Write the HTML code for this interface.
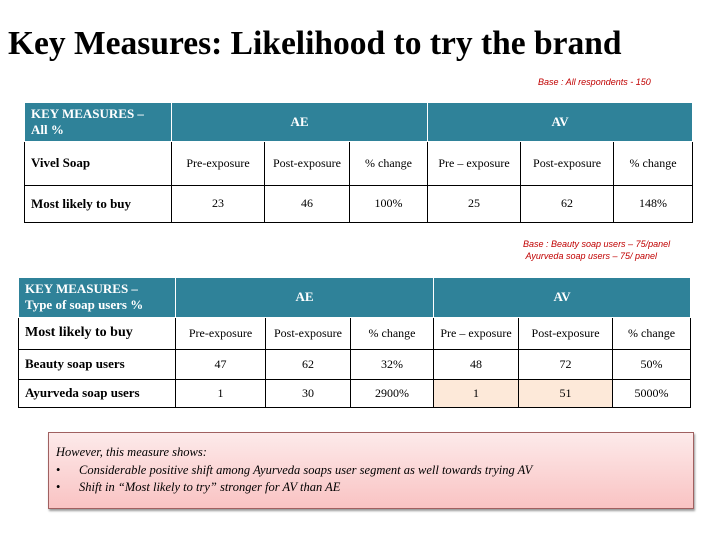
<!DOCTYPE html>
<html><head><meta charset="utf-8">
<style>
body{margin:0;width:720px;height:540px;background:#fff;position:relative;overflow:hidden;font-family:"Liberation Serif",serif;}
.title{position:absolute;left:8px;top:25px;font-size:33.5px;font-weight:bold;white-space:nowrap;color:#000;}
.base{position:absolute;color:#c00000;font-style:italic;font-size:9px;font-family:"Liberation Sans",sans-serif;white-space:nowrap;}
table{position:absolute;border-collapse:collapse;table-layout:fixed;font-size:12px;}
td{border:1px solid #000;text-align:center;padding:0;}
.hd td{background:#2f8299;color:#fff;font-weight:bold;border:1px solid #fff;border-top:none;font-size:13px;}
.hd td.l{text-align:left;padding-left:6px;}
td.l{text-align:left;padding-left:6px;font-weight:bold;font-size:13px;}
.pk{background:#fde9d9;}
.note{position:absolute;left:48px;top:432px;width:646px;height:77px;border:1px solid #a06060;background:linear-gradient(#fdeaea,#f9c3c3);box-shadow:1px 2px 2px #999;font-style:italic;font-size:12.5px;box-sizing:border-box;padding:11px 0 0 7px;line-height:17.5px;}
.note div span{display:inline-block;width:23px;font-style:normal;}
</style></head><body>
<div class="title">Key Measures: Likelihood to try the brand</div>
<div class="base" style="left:538px;top:77px">Base : All respondents - 150</div>

<table style="left:24px;top:103px;width:668px">
<colgroup><col style="width:147px"><col style="width:93px"><col style="width:85px"><col style="width:78px"><col style="width:93px"><col style="width:93px"><col style="width:79px"></colgroup>
<tr class="hd" style="height:38px"><td class="l">KEY MEASURES –<br>All %</td><td colspan="3">AE</td><td colspan="3">AV</td></tr>
<tr style="height:44px"><td class="l">Vivel Soap</td><td>Pre-exposure</td><td>Post-exposure</td><td>% change</td><td>Pre – exposure</td><td>Post-exposure</td><td>% change</td></tr>
<tr style="height:37px"><td class="l">Most likely to buy</td><td>23</td><td>46</td><td>100%</td><td>25</td><td>62</td><td>148%</td></tr>
</table>

<div class="base" style="left:523px;top:238px;line-height:12px">Base : Beauty soap users – 75/panel<br>&nbsp;Ayurveda soap users – 75/ panel</div>

<table style="left:18px;top:278px;width:672px">
<colgroup><col style="width:157px"><col style="width:90px"><col style="width:85px"><col style="width:83px"><col style="width:85px"><col style="width:94px"><col style="width:78px"></colgroup>
<tr class="hd" style="height:39px"><td class="l">KEY MEASURES –<br>Type of soap users %</td><td colspan="3">AE</td><td colspan="3">AV</td></tr>
<tr style="height:32px"><td class="l" style="font-size:14px">Most likely to buy</td><td>Pre-exposure</td><td>Post-exposure</td><td>% change</td><td>Pre – exposure</td><td>Post-exposure</td><td>% change</td></tr>
<tr style="height:30px"><td class="l">Beauty soap users</td><td>47</td><td>62</td><td>32%</td><td>48</td><td>72</td><td>50%</td></tr>
<tr style="height:28px"><td class="l">Ayurveda soap users</td><td>1</td><td>30</td><td>2900%</td><td class="pk">1</td><td class="pk">51</td><td>5000%</td></tr>
</table>

<div class="note">
<div>However, this measure shows:</div>
<div><span>•</span>Considerable positive shift among Ayurveda soaps user segment as well towards trying AV</div>
<div><span>•</span>Shift in “Most likely to try” stronger for AV than AE</div>
</div>
</body></html>
